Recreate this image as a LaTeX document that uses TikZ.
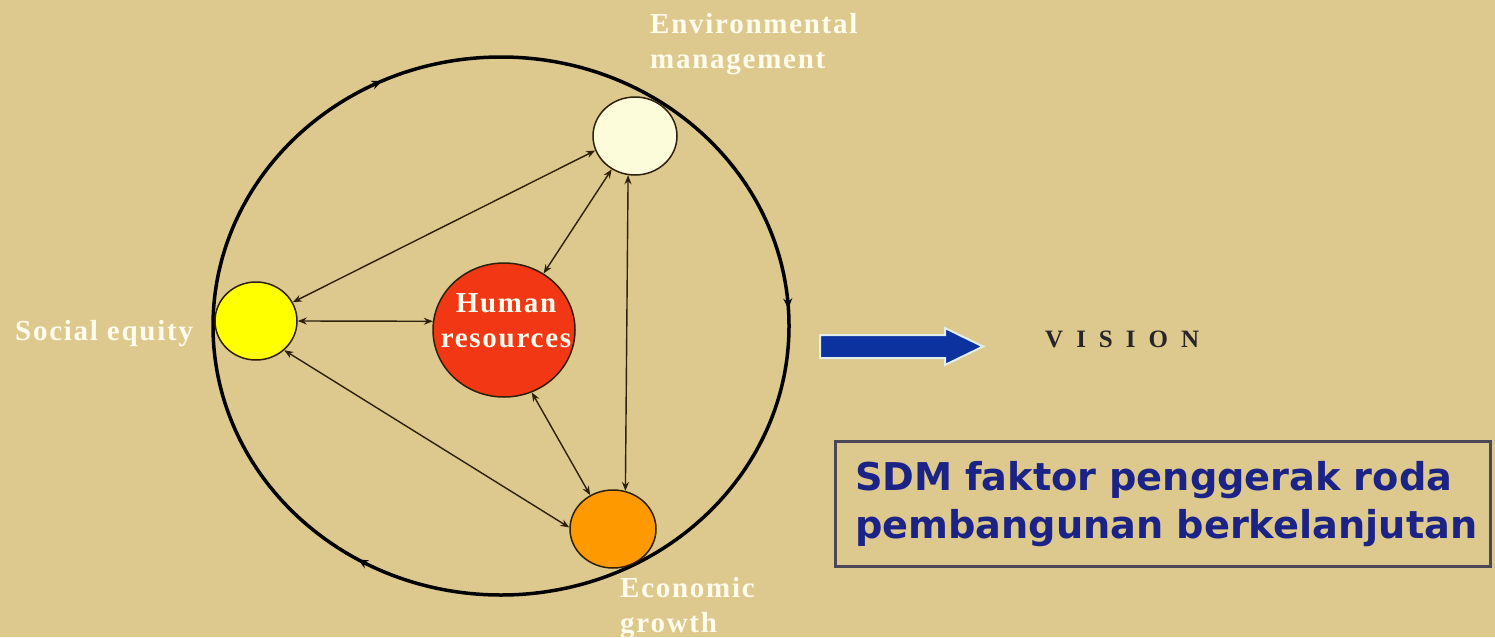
\documentclass[tikz,border=0pt]{standalone}
\usepackage{fontspec}
\setmainfont{Liberation Serif}
\newfontfamily\lblfont{Liberation Serif}[LetterSpace=6]
\newfontfamily\visfont{Liberation Serif}[LetterSpace=52]
\newfontfamily\boxfont{DejaVu Sans}
\usetikzlibrary{shapes.geometric,arrows.meta,decorations.markings}
\definecolor{bg}{RGB}{221,201,141}
\definecolor{envc}{RGB}{252,252,218}
\definecolor{yelc}{RGB}{255,255,0}
\definecolor{redc}{RGB}{242,55,20}
\definecolor{orgc}{RGB}{255,153,0}
\definecolor{lblc}{RGB}{255,252,238}
\definecolor{linec}{RGB}{45,32,12}
\definecolor{navy}{RGB}{28,35,135}
\definecolor{arrowblue}{RGB}{12,50,160}
\definecolor{arrowedge}{RGB}{225,238,235}
\definecolor{boxedge}{RGB}{75,72,85}
\definecolor{vistext}{RGB}{40,38,40}
\tikzset{
  bubble/.style={ellipse, draw=linec, line width=1.5pt, inner sep=0pt},
  link/.style={draw=linec, line width=1.4pt, {Stealth[length=9pt,width=7pt]}-{Stealth[length=9pt,width=7pt]}},
  lbl/.style={inner sep=0pt, text=lblc, font=\lblfont\bfseries\fontsize{29}{35}\selectfont, align=left},
}
\begin{document}
\begin{tikzpicture}[x=1pt,y=-1pt]
\fill[bg] (0,0) rectangle (1495,637);
\useasboundingbox (0,0) rectangle (1495,637);

% outer cycle
\draw[black, line width=3.5pt, postaction={decorate},
  decoration={markings,
    mark=at position 0.085 with {\arrow{Stealth[length=10pt,width=9pt]}},
    mark=at position 0.43 with {\arrow{Stealth[length=10pt,width=9pt]}},
    mark=at position 0.74 with {\arrow{Stealth[length=10pt,width=9pt]}}}]
  (501,595) arc[start angle=90, end angle=450, x radius=288, y radius=269];

% bubbles
\node[bubble, fill=envc, minimum width=84pt, minimum height=78pt] (env) at (635,136) {};
\node[bubble, fill=yelc, minimum width=82pt, minimum height=78pt] (soc) at (256,321) {};
\node[bubble, fill=redc, minimum width=142pt, minimum height=134pt] (hr) at (504,330) {};
\node[bubble, fill=orgc, minimum width=86pt, minimum height=78pt] (eco) at (613,529) {};

% connectors
\draw[link] (soc.27) -- (env.200);
\draw[link] (soc.0) -- (hr.173);
\draw[link] (soc.-46) -- (eco.178);
\draw[link] (hr.55) -- (env.-125);
\draw[link] (hr.-66) -- (eco.124);
\draw[link] (env.-100) -- (eco.72);

% labels
\node[lbl, anchor=north west] (envl) at (650,13.5) {Environmental\\management};
\node[lbl, anchor=base west] (socl) at (15,340) {Social equity};
\node[lbl, anchor=north, align=center] (hrl) at (506,293.5) {Human\\resources};
\node[lbl, anchor=north west] (ecol) at (620,577.5) {Economic\\growth};
\node[inner sep=0pt, anchor=base west, text=vistext, font=\visfont\bfseries\fontsize{25}{28}\selectfont] (vis) at (1045,347) {VISION};

% big arrow
\filldraw[fill=arrowblue, draw=arrowedge, line width=2pt]
  (820,335) -- (945,335) -- (945,328) -- (983,346.5) -- (945,365) -- (945,358) -- (820,358) -- cycle;

% box
\node[draw=boxedge, line width=3pt, minimum width=655pt, minimum height=125pt,
      text width=615pt, align=left, inner xsep=20pt, inner ysep=0pt,
      text=navy, font=\boxfont\bfseries\fontsize{38.3}{48}\selectfont]
  (msg) at (1162.5,504) {\mbox{SDM faktor penggerak roda}\\\mbox{pembangunan berkelanjutan}};
\end{tikzpicture}
\end{document}
